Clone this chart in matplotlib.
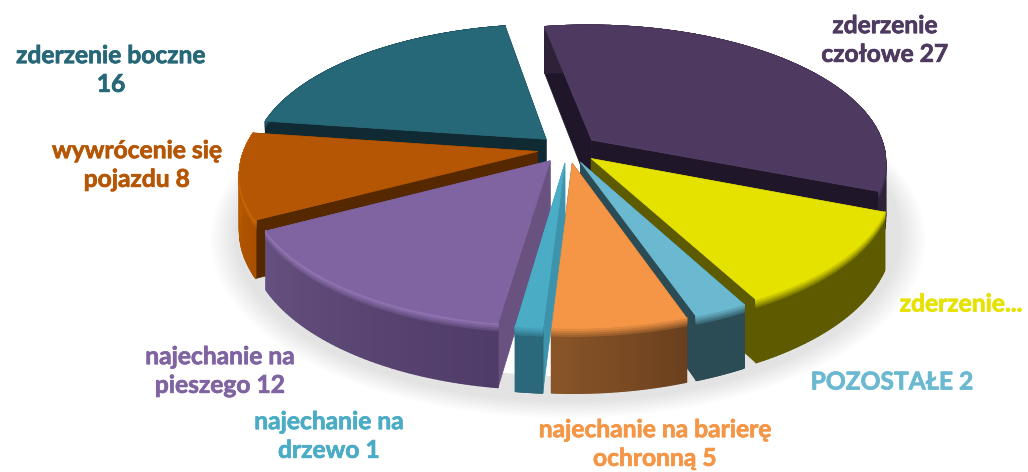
import numpy as np
import matplotlib
matplotlib.use("Agg")
import matplotlib.pyplot as plt
import matplotlib.patheffects as pe
from matplotlib.collections import PolyCollection
from matplotlib.colors import to_rgb

labels = ["zderzenie\nczołowe 27", "zderzenie...", "POZOSTAŁE 2", "najechanie na barierę\nochronną 5",
          "najechanie na\ndrzewo 1", "najechanie na\npieszego 12", "wywrócenie się\npojazdu 8", "zderzenie boczne\n16"]
values = [27, 9, 2, 5, 1, 12, 8, 16]

top_colors = ["#4E3A60", "#E6E200", "#6BB9D0", "#F59646", "#4BACC6", "#8064A2", "#B55604", "#266778"]
side_colors = ["#20162A", "#5D5A00", "#2B4B55", "#6E4220", "#3D93AB", "#69527F", "#552800", "#0F2A32"]
rim_left = ["#2E2238", "#5D5A00", "#2B4B55", "#8A5528", "#2C687C", "#65507F", "#C05E00", "#0F2A32"]
rim_right = ["#2E2238", "#5D5A00", "#2B4B55", "#6B401E", "#2C687C", "#503C68", "#A85000", "#0F2A32"]
rim_light = ["#4E3A60", "#E6E200", "#6BB9D0", "#F59646", "#4BACC6", "#9A7CBE", "#D06A08", "#266778"]
label_colors = ["#4E3A60", "#E6E200", "#6BB9D0", "#F59646", "#4BACC6", "#8064A2", "#B55604", "#266778"]
label_pos = [(885, 40), (961, 304), (892, 382), (655, 444), (329, 436), (220, 371), (137, 165), (111, 70)]

cx, cy = 568, 149
a, b, k = 293, 135, 0.153
depth = 54
explode = 0.105
start_angle = -10


def project(x, y, h=0.0):
    s = 1 / (1 - k * y)
    return cx + a * x * s, cy + b * y * s + h * s


def mix(c1, c2, t):
    c1, c2 = np.array(to_rgb(c1)), np.array(to_rgb(c2))
    return tuple(c1 + (c2 - c1) * t)


fig = plt.figure(figsize=(10.28, 4.72), dpi=100)
ax = fig.add_axes([0, 0, 1, 1])
ax.set_xlim(0, 1028)
ax.set_ylim(472, 0)
ax.axis("off")

# soft shadow under the pie, only a ring so the gaps stay white
t = np.radians(np.linspace(70, 290, 120))
for grow in np.linspace(1.2, 1.12, 14):
    outer = project(grow * np.sin(t), -grow * np.cos(t), depth + 4)
    inner = project(1.02 * np.sin(t[::-1]), -1.02 * np.cos(t[::-1]), depth)
    ax.fill(np.r_[outer[0], inner[0]], np.r_[outer[1], inner[1]], color="black", alpha=0.009, lw=0, zorder=1)

sweeps = np.array(values) / sum(values) * 360
starts = start_angle + np.concatenate([[0], np.cumsum(sweeps)[:-1]])
mids = starts + sweeps / 2

# back slices first
order = np.argsort(-np.cos(np.radians(mids)))
z = 2
for i in order:
    th = np.radians(np.linspace(starts[i], starts[i] + sweeps[i], 50))
    mid = np.radians(mids[i])
    ox, oy = explode * np.sin(mid), -explode * np.cos(mid)
    rx, ry = ox + np.sin(th), oy - np.cos(th)

    # radial walls
    for j in [0, -1]:
        xs = [ox, rx[j], rx[j], ox]
        ys = [oy, ry[j], ry[j], oy]
        hs = [0, 0, depth, depth]
        px, py = project(np.array(xs), np.array(ys), np.array(hs))
        ax.fill(px, py, color=side_colors[i], lw=0.5, zorder=z)
    z += 1

    # outer wall, plain side first then the light strip at the top edge
    steps = [1, 0.16, 0.12, 0.09, 0.06, 0.03]
    polys, cols = [], []
    for n in range(len(steps)):
        for m in range(len(th) - 1):
            if np.sin(th[m]) > 0:
                base = mix(rim_right[i], rim_left[i], m / 49)
            else:
                base = mix(rim_left[i], rim_right[i], 1 - m / 49)
            xa, ya = project(rx[m], ry[m], 0)
            xb, yb = project(rx[m + 1], ry[m + 1], 0)
            xc, yc = project(rx[m + 1], ry[m + 1], steps[n] * depth)
            xd, yd = project(rx[m], ry[m], steps[n] * depth)
            polys.append([(xa, ya), (xb, yb), (xc, yc), (xd, yd)])
            cols.append(mix(rim_light[i], base, min(1, steps[n] / 0.16)))
    ax.add_collection(PolyCollection(polys, facecolors=cols, edgecolors=cols, linewidths=1.0, zorder=z))
    z += 1

    # top face
    px, py = project(np.concatenate([[ox], rx]), np.concatenate([[oy], ry]))
    ax.fill(px, py, color=top_colors[i], lw=0.5, zorder=z)
    z += 1

for lab, pos, col in zip(labels, label_pos, label_colors):
    ax.text(pos[0], pos[1], lab, color=col, ha="center", va="center", family="Lato",
            fontweight="bold", fontsize=17.7, linespacing=1.3, zorder=100,
            path_effects=[pe.withStroke(linewidth=0.5, foreground=col)])

fig.savefig("out.png", dpi=100)
